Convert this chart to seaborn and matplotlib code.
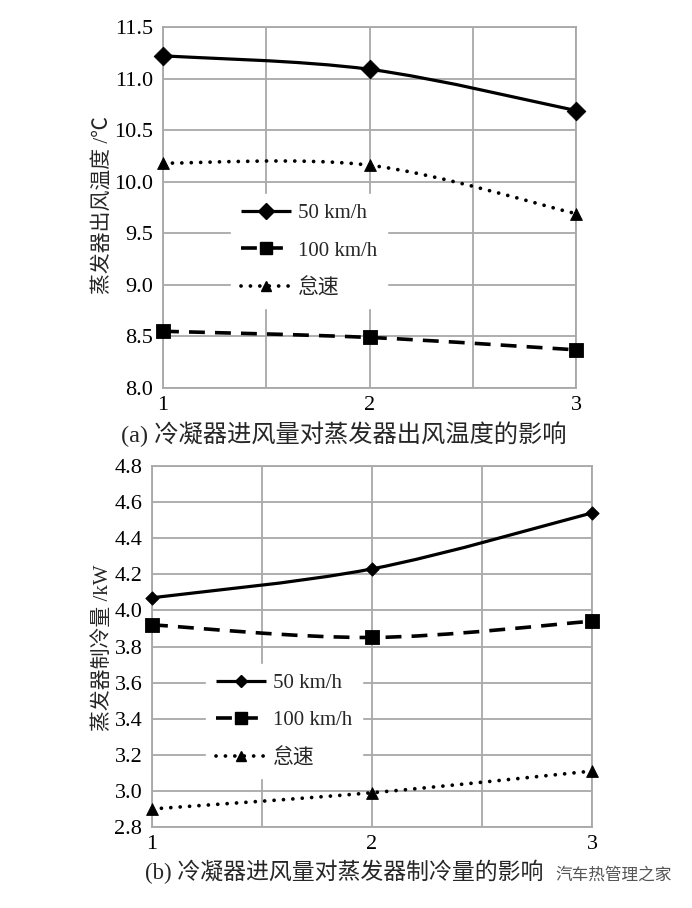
import numpy as np
import pandas as pd
import matplotlib
matplotlib.use("Agg")
import matplotlib.pyplot as plt
import seaborn as sns
from matplotlib.path import Path
from matplotlib.patches import PathPatch
from matplotlib.lines import Line2D

# ---------------- data ----------------
x_levels = [1, 2, 3]
xtick_labels = ["1", "2", "3"]
series_labels = ["50 km/h", "100 km/h", "怠速"]

temp_50 = [11.22, 11.09, 10.69]
temp_100 = [8.55, 8.49, 8.37]
temp_idle = [10.18, 10.16, 9.69]

cool_50 = [4.07, 4.23, 4.54]
cool_100 = [3.92, 3.85, 3.94]
cool_idle = [2.90, 2.99, 3.11]

top_yticks = [8.0, 8.5, 9.0, 9.5, 10.0, 10.5, 11.0, 11.5]
bottom_yticks = [2.8, 3.0, 3.2, 3.4, 3.6, 3.8, 4.0, 4.2, 4.4, 4.6, 4.8]

caption_a = "(a) 冷凝器进风量对蒸发器出风温度的影响"
caption_b = "(b) 冷凝器进风量对蒸发器制冷量的影响"
ylabel_a = "蒸发器出风温度 /℃"
ylabel_b = "蒸发器制冷量 /kW"
watermark = "汽车热管理之家"

# ---------------- style ----------------
sns.set_theme(style="white")
plt.rcParams["font.family"] = ["Liberation Serif", "Noto Sans CJK SC", "DejaVu Sans"]
GRID = "#a8a8a8"

W, H = 692, 908
fig = plt.figure(figsize=(W / 100, H / 100), dpi=100)

def frac_box(l, r, t, b):
    return [l / W, 1 - b / H, (r - l) / W, (b - t) / H]

ax_top = fig.add_axes(frac_box(163, 576, 27, 388))
ax_bot = fig.add_axes(frac_box(152, 592, 466, 827))

def smooth_path(xs, ys):
    pts = np.column_stack([xs, ys]).astype(float)
    n = len(pts)
    verts = [pts[0]]
    codes = [Path.MOVETO]
    for i in range(n - 1):
        p_prev = pts[i - 1] if i > 0 else pts[i]
        p_next2 = pts[i + 2] if i + 2 < n else pts[i + 1]
        c1 = pts[i] + (pts[i + 1] - p_prev) / 6.0
        c2 = pts[i + 1] - (p_next2 - pts[i]) / 6.0
        verts += [c1, c2, pts[i + 1]]
        codes += [Path.CURVE4] * 3
    return Path(verts, codes)

styles = {
    "50 km/h": dict(ls="-", lw=2.3, cap="butt"),
    "100 km/h": dict(ls=(0, (4.4, 2.8)), lw=2.6, cap="butt"),
    "怠速": dict(ls=(0, (0.01, 2.5)), lw=2.7, cap="round"),
}

def draw_panel(ax, series, markers, yticks, legend_anchor):
    for label, ys in zip(series_labels, series):
        st = styles[label]
        patch = PathPatch(smooth_path(x_levels, ys), facecolor="none",
                          edgecolor="black", linewidth=st["lw"],
                          linestyle=st["ls"], capstyle=st["cap"], zorder=4)
        ax.add_patch(patch)
        mk, ms = markers[label]
        df = pd.DataFrame({"x": x_levels, "y": ys})
        sns.scatterplot(data=df, x="x", y="y", marker=mk, s=ms ** 2,
                        color="black", edgecolor="black", linewidth=0.6,
                        ax=ax, zorder=5, legend=False, clip_on=False)
    ax.set_xlim(1, 3)
    ax.set_ylim(yticks[0], yticks[-1])
    ax.set_xticks(x_levels)
    ax.set_xticklabels(xtick_labels)
    ax.set_xticks([1.5, 2.5], minor=True)
    ax.set_yticks(yticks)
    ax.set_yticklabels([f"{v:.1f}" for v in yticks])
    ax.grid(True, which="both", color=GRID, linewidth=1.3)
    ax.set_axisbelow(True)
    for s in ax.spines.values():
        s.set_color(GRID)
        s.set_linewidth(1.3)
    ax.tick_params(axis="both", which="both", length=0, labelsize=16,
                   colors="black")
    ax.tick_params(axis="y", pad=7)
    ax.tick_params(axis="x", pad=6)
    ax.set_xlabel("")
    ax.set_ylabel("")
    handles = []
    for label in series_labels:
        st = styles[label]
        mk, ms = markers[label]
        handles.append(Line2D([0], [0], color="black", linewidth=st["lw"],
                              linestyle=st["ls"], marker=mk, markersize=ms * 0.85,
                              dash_capstyle=st["cap"], solid_capstyle="butt"))
    leg = ax.legend(handles, series_labels, loc="upper left",
                    bbox_to_anchor=legend_anchor, frameon=True,
                    facecolor="white", edgecolor="white", framealpha=1,
                    fancybox=False, fontsize=15, handlelength=2.4,
                    handletextpad=0.35, labelspacing=0.85, borderpad=0.45,
                    numpoints=1)
    leg.set_zorder(6)

draw_panel(ax_top, [temp_50, temp_100, temp_idle],
           {"50 km/h": ("D", 9.5), "100 km/h": ("s", 10), "怠速": ("^", 8.5)},
           top_yticks, (0.14, 0.565))
draw_panel(ax_bot, [cool_50, cool_100, cool_idle],
           {"50 km/h": ("D", 6.8), "100 km/h": ("s", 10), "怠速": ("^", 8.5)},
           bottom_yticks, (0.10, 0.48))

fig.text(103 / W, 1 - 205 / H, ylabel_a, rotation=90, ha="center",
         va="center", fontsize=15)
fig.text(103 / W, 1 - 648 / H, ylabel_b, rotation=90, ha="center",
         va="center", fontsize=15)
fig.text(121 / W, 1 - 434 / H, caption_a, ha="left", va="center", fontsize=17.5)
fig.text(145 / W, 1 - 872 / H, caption_b, ha="left", va="center", fontsize=16.5)
fig.text(672 / W, 1 - 876 / H, watermark, ha="right", va="center",
         fontsize=12, color="#555555")

fig.savefig("out.png", dpi=100, facecolor="white")
